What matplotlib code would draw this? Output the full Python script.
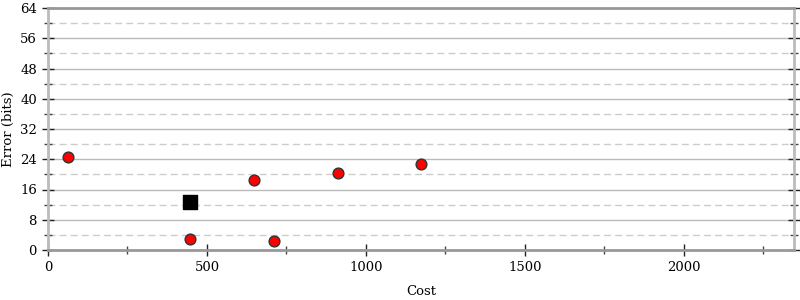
import matplotlib
matplotlib.use("Agg")
import matplotlib.pyplot as plt
from matplotlib.ticker import MultipleLocator

plt.rcParams['font.family'] = ['DejaVu Serif']

cost_points = [63, 447, 648, 711, 912, 1173]
error_points = [24.7, 2.9, 18.4, 2.5, 20.4, 22.7]
cost_initial = [447]
error_initial = [12.6]

fig = plt.figure(figsize=(8, 3), dpi=100)
ax = fig.add_axes([48/800, 50/300, (794-48)/800, (250-8)/300])

ax.set_xlim(0, 2346)
ax.set_ylim(0, 64)
ax.yaxis.set_major_locator(MultipleLocator(8))
ax.yaxis.set_minor_locator(MultipleLocator(4))
ax.xaxis.set_major_locator(MultipleLocator(500))
ax.xaxis.set_minor_locator(MultipleLocator(250))

ax.grid(which='major', axis='y', color='#bbbbbb', linewidth=1, linestyle='-')
ax.grid(which='minor', axis='y', color='#cccccc', linewidth=1, linestyle=(0, (5, 3)))
ax.set_axisbelow(True)

for s in ['left', 'right']:
    ax.spines[s].set_color('#bbbbbb')
    ax.spines[s].set_linewidth(2)
ax.spines['top'].set_color('#999999')
ax.spines['top'].set_linewidth(2)
ax.spines['bottom'].set_color('#999999')
ax.spines['bottom'].set_linewidth(2)

ax.tick_params(axis='both', which='major', direction='inout', length=9, width=1, color='#222222', labelsize=9.5)
ax.tick_params(axis='both', which='minor', direction='inout', length=6, width=1, color='#444444')
ax.tick_params(axis='y', which='both', right=True)

ax.scatter(cost_points, error_points, s=60, c='#ff0000', edgecolors='#333333', linewidths=1, zorder=3)
ax.scatter(cost_initial, error_initial, s=90, c='#000000', marker='s', zorder=3)

ax.set_xlabel('Cost', fontsize=9.5, labelpad=8)
ax.set_ylabel('Error (bits)', fontsize=9.5, labelpad=4)

fig.savefig('out.png', dpi=100)
